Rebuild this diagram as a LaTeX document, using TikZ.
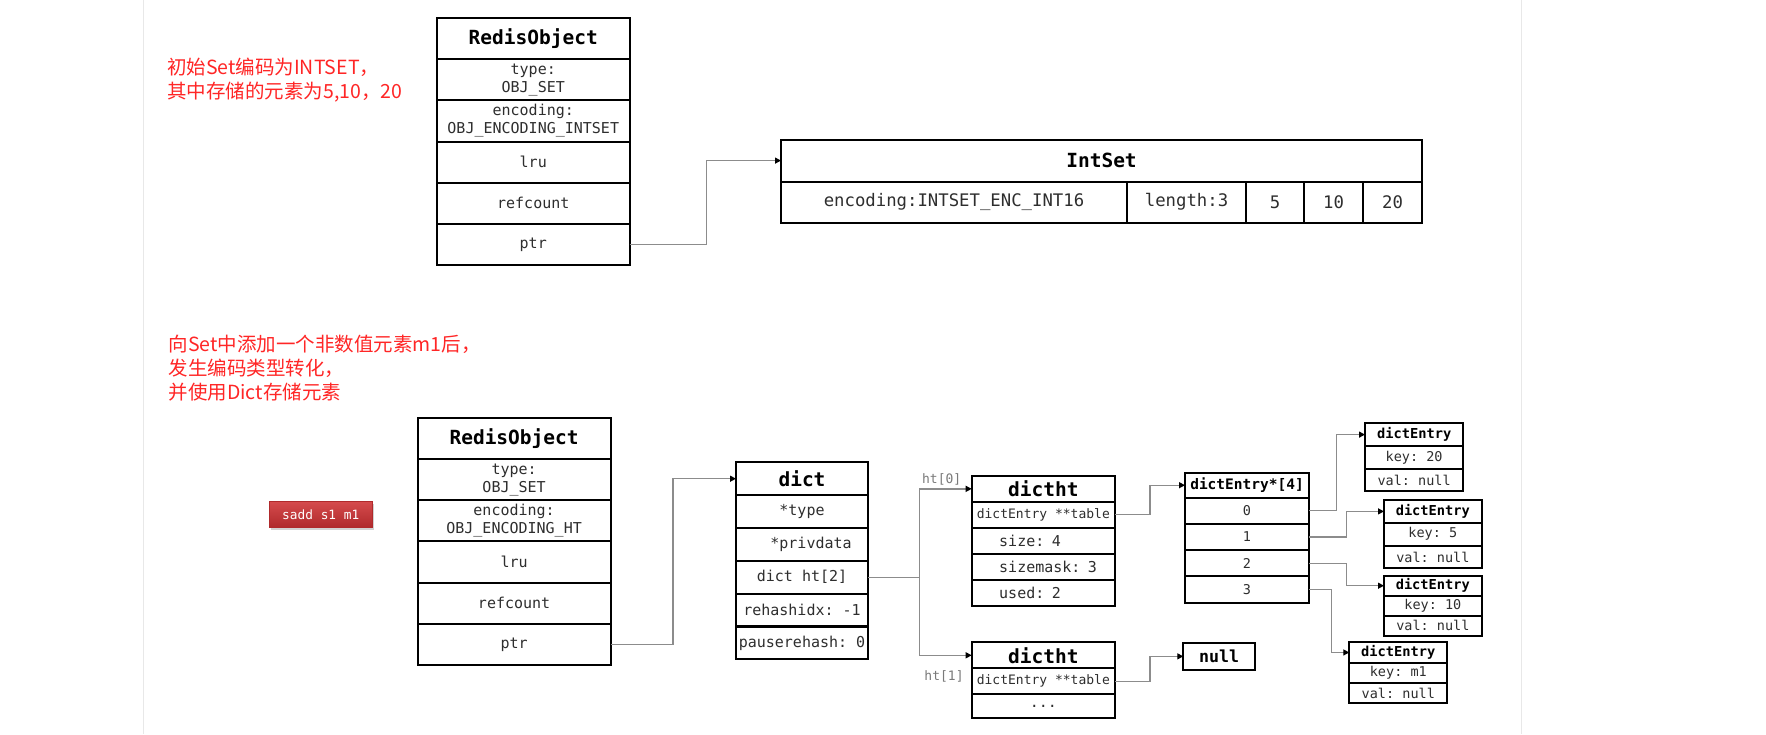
\documentclass[tikz,border=0pt]{standalone}
\usepackage{fontspec}
\setmonofont{DejaVu Sans Mono}
\newfontfamily\cjkfont{Noto Sans CJK SC}
\usetikzlibrary{arrows.meta,shadows}

\definecolor{linkgray}{HTML}{8C8C8C}
\definecolor{textgray}{HTML}{2E2E2E}
\definecolor{labelgray}{HTML}{7A7A7A}
\definecolor{notered}{HTML}{FF2626}
\definecolor{cmdtop}{HTML}{D54B4D}
\definecolor{cmdbot}{HTML}{B02A2C}
\definecolor{slideline}{HTML}{E8E8E8}

\begin{document}
\begin{tikzpicture}[x=1pt,y=-1pt,
    cell/.style 2 args={draw, line width=2pt, rectangle, anchor=north west, outer sep=0pt,
        inner sep=0pt, minimum width=#1, minimum height=#2, align=center, text=textgray,
        font=\ttfamily\fontsize{15}{18}\selectfont},
    head/.style={text=black, font=\ttfamily\bfseries\fontsize{19.5}{22}\selectfont},
    smallhead/.style={text=black, font=\ttfamily\bfseries\fontsize{14.5}{17}\selectfont},
    entryhead/.style={text=black, font=\ttfamily\bfseries\fontsize{13.7}{16}\selectfont},
    small/.style={font=\ttfamily\fontsize{13.5}{16}\selectfont},
    leftrow/.style={text width=#1, align=left, inner xsep=0pt,
        execute at begin node={\hspace*{27.5pt}}},
    link/.style={draw=linkgray, line width=1.3pt, -{Triangle[length=6pt,width=6pt,color=black]}},
    note/.style={anchor=base west, align=left, inner sep=0pt, text=notered,
        font=\cjkfont\fontsize{19.5}{24}\selectfont},
    htlabel/.style={text=labelgray, inner sep=0pt, font=\ttfamily\fontsize{13}{15}\selectfont},
    cmd/.style={anchor=north west, minimum width=102.7pt, minimum height=25.7pt, inner sep=0pt,
        top color=cmdtop, bottom color=cmdbot, draw=cmdbot, line width=0.8pt,
        drop shadow={shadow xshift=1.5pt, shadow yshift=-2.5pt, opacity=0.35},
        text=white, font=\ttfamily\fontsize{12.8}{15}\selectfont}
]
    % Page and slide edges
    \fill[white] (0,0) rectangle (1766,734);
    \useasboundingbox (0,0) rectangle (1766,734);
    \draw[slideline, line width=1.2pt] (143.3,0) -- (143.3,734);
    \draw[slideline, line width=1.2pt] (1521.7,0) -- (1521.7,734);

    % Notes
    \node[note] (noteA) at (167,98) {初始Set编码为INTSET，\\其中存储的元素为5,10，20};
    \node[note] (noteB) at (168.5,399) {向Set中添加一个非数值元素m1后，\\发生编码类型转化，\\并使用Dict存储元素};
    \node[cmd] (sadd) at (269,501) {sadd s1 m1};

    % RedisObject with intset
    \node[cell={192.5pt}{41.2pt}, head] (roA) at (437,18) {RedisObject};
    \node[cell={192.5pt}{41.2pt}] (roAtype) at (437,59.2) {type:\\OBJ\_SET};
    \node[cell={192.5pt}{41.2pt}] (roAenc) at (437,100.3) {encoding:\\OBJ\_ENCODING\_INTSET};
    \node[cell={192.5pt}{41.2pt}] (roAlru) at (437,141.5) {lru};
    \node[cell={192.5pt}{41.2pt}] (roAref) at (437,182.7) {refcount};
    \node[cell={192.5pt}{41.2pt}] (roAptr) at (437,223.8) {ptr};

    % IntSet
    \node[cell={641pt}{42.2pt}, head] (intset) at (781,139.5) {IntSet};
    \node[cell={346pt}{40.8pt}, font=\ttfamily\fontsize{17.3}{20}\selectfont] (isenc) at (781,181.7) {encoding:INTSET\_ENC\_INT16};
    \node[cell={119pt}{40.8pt}, font=\ttfamily\fontsize{17.3}{20}\selectfont] (islen) at (1127,181.7) {length:3};
    \node[cell={58pt}{40.8pt}, font=\ttfamily\fontsize{17.3}{20}\selectfont] (isA) at (1246,181.7) {5};
    \node[cell={59pt}{40.8pt}, font=\ttfamily\fontsize{17.3}{20}\selectfont] (isB) at (1304,181.7) {10};
    \node[cell={59pt}{40.8pt}, font=\ttfamily\fontsize{17.3}{20}\selectfont] (isC) at (1363,181.7) {20};

    \draw[link] (roAptr.east) -- ++(77,0) |- (intset.west);

    % RedisObject with dict
    \node[cell={193pt}{41.2pt}, head] (roB) at (417.6,417.7) {RedisObject};
    \node[cell={193pt}{41.2pt}] (roBtype) at (417.6,458.9) {type:\\OBJ\_SET};
    \node[cell={193pt}{41.2pt}] (roBenc) at (417.6,500.1) {encoding:\\OBJ\_ENCODING\_HT};
    \node[cell={193pt}{41.2pt}] (roBlru) at (417.6,541.3) {lru};
    \node[cell={193pt}{41.2pt}] (roBref) at (417.6,582.5) {refcount};
    \node[cell={193pt}{41.2pt}] (roBptr) at (417.6,623.7) {ptr};

    % dict
    \node[cell={132pt}{32.8pt}, head] (dict) at (736,462.3) {dict};
    \node[cell={132pt}{32.8pt}] (dtype) at (736,495.1) {*type};
    \node[cell={132pt}{32.8pt}] (dpriv) at (736,528) {~~*privdata};
    \node[cell={132pt}{32.8pt}] (dht) at (736,560.8) {dict ht[2]};
    \node[cell={132pt}{32.8pt}] (drehash) at (736,593.6) {rehashidx: -1};
    \node[cell={132pt}{32.8pt}] (dpause) at (736,626.5) {pauserehash: 0};

    \draw[link] (roBptr.east) -- ++(62.5,0) |- (dict.west);

    % dictht ht[0]
    \node[cell={143.3pt}{25.7pt}, head] (htA) at (971.7,476) {dictht};
    \node[cell={143.3pt}{26pt}, font=\ttfamily\fontsize{13}{15}\selectfont] (htAtable) at (971.7,501.7) {dictEntry **table};
    \node[cell={143.3pt}{26pt}, leftrow=143.3pt] (htAsize) at (971.7,527.7) {size: 4};
    \node[cell={143.3pt}{26pt}, leftrow=143.3pt] (htAmask) at (971.7,553.7) {sizemask: 3};
    \node[cell={143.3pt}{26pt}, leftrow=143.3pt] (htAused) at (971.7,579.7) {used: 2};

    % dictht ht[1]
    \node[cell={143.3pt}{26pt}, head] (htB) at (971.7,642.3) {dictht};
    \node[cell={143.3pt}{25.7pt}, font=\ttfamily\fontsize{13}{15}\selectfont] (htBtable) at (971.7,668.3) {dictEntry **table};
    \node[cell={143.3pt}{24.3pt}] (htBmore) at (971.7,694) {...};

    \node[htlabel] (htAlabel) at (941.7,479.3) {ht[0]};
    \node[htlabel] (htBlabel) at (944,676) {ht[1]};

    \draw[link] (dht.east) -- ++(51.5,0) |- (htA.west);
    \draw[link] (dht.east) -- ++(51.5,0) |- (htB.west);

    % dictEntry table
    \node[cell={124pt}{25pt}, smallhead] (slots) at (1185,472.7) {dictEntry*[4]};
    \node[cell={124pt}{26.2pt}, small] (slotA) at (1185,497.7) {0};
    \node[cell={124pt}{26.2pt}, small] (slotB) at (1185,523.9) {1};
    \node[cell={124pt}{26.2pt}, small] (slotC) at (1185,550.1) {2};
    \node[cell={124pt}{26.2pt}, small] (slotD) at (1185,576.3) {3};
    \node[cell={71.7pt}{27.3pt}, text=black, font=\ttfamily\bfseries\fontsize{16.6}{19}\selectfont] (null) at (1183.3,642.7) {null};

    \draw[link] (htAtable.east) -- ++(35,0) |- (slots.west);
    \draw[link] (htBtable.east) -- ++(35,0) |- (null.west);

    % dictEntry nodes
    \node[cell={98.3pt}{22.6pt}, entryhead] (entA) at (1365,423.3) {dictEntry};
    \node[cell={98.3pt}{22.6pt}, small] (entAkey) at (1365,446) {key: 20};
    \node[cell={98.3pt}{22.6pt}, small] (entAval) at (1365,468.7) {val: null};

    \node[cell={97.7pt}{22.8pt}, entryhead] (entB) at (1384,500) {dictEntry};
    \node[cell={97.7pt}{22.8pt}, small] (entBkey) at (1384,522.8) {key: 5};
    \node[cell={97.7pt}{22.8pt}, small] (entBval) at (1384,545.6) {val: null};

    \node[cell={97.7pt}{20pt}, entryhead] (entC) at (1384,575.7) {dictEntry};
    \node[cell={97.7pt}{20pt}, small] (entCkey) at (1384,595.7) {key: 10};
    \node[cell={97.7pt}{20pt}, small] (entCval) at (1384,615.7) {val: null};

    \node[cell={98pt}{20.3pt}, entryhead] (entD) at (1349.3,642.3) {dictEntry};
    \node[cell={98pt}{20.3pt}, small] (entDkey) at (1349.3,662.6) {key: m1};
    \node[cell={98pt}{20.3pt}, small] (entDval) at (1349.3,682.9) {val: null};

    \draw[link] (slotA.east) -- ++(27.7,0) |- (entA.west);
    \draw[link] (slotB.east) -- ++(37.7,0) |- (entB.west);
    \draw[link] (slotC.east) -- ++(37.7,0) |- (entC.west);
    \draw[link] (slotD.east) -- ++(22.7,0) |- (entD.west);

\end{tikzpicture}
\end{document}
